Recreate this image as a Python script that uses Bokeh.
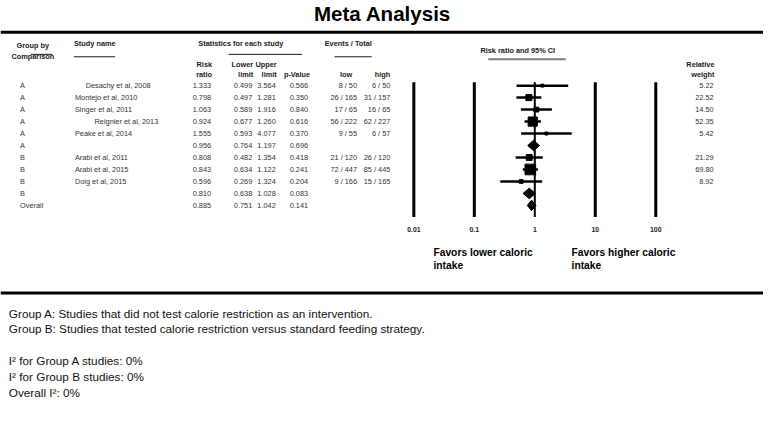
from bokeh.plotting import figure
from bokeh.models import Range1d, LogScale, ColumnDataSource
from bokeh.core.properties import value
from bokeh.embed import file_html
from bokeh.resources import INLINE
import math

# ---------------- data ----------------
groups = ["A", "A", "A", "A", "A", "A", "B", "B", "B", "B", "Overall"]
studies = ["Desachy et al, 2008", "Montejo et al, 2010", "Singer et al, 2011",
           "Reignier et al, 2013", "Peake et al, 2014", "",
           "Arabi et al, 2011", "Arabi et al, 2015", "Doig et al, 2015", "", ""]
risk_ratio = [1.333, 0.798, 1.063, 0.924, 1.555, 0.956, 0.808, 0.843, 0.596, 0.810, 0.885]
lower_limit = [0.499, 0.497, 0.589, 0.677, 0.593, 0.764, 0.482, 0.634, 0.269, 0.638, 0.751]
upper_limit = [3.564, 1.281, 1.916, 1.260, 4.077, 1.197, 1.354, 1.122, 1.324, 1.028, 1.042]
p_value = [0.566, 0.350, 0.840, 0.616, 0.370, 0.696, 0.418, 0.241, 0.204, 0.083, 0.141]
events_low = ["8 / 50", "26 / 165", "17 / 65", "56 / 222", "9 / 55", "",
              "21 / 120", "72 / 447", "9 / 166", "", ""]
events_high = ["6 / 50", "31 / 157", "16 / 65", "62 / 227", "6 / 57", "",
               "26 / 120", "85 / 445", "15 / 165", "", ""]
rel_weight = [5.22, 22.52, 14.50, 52.35, 5.42, None, 21.29, 69.80, 8.92, None, None]
is_summary = [False, False, False, False, False, True, False, False, False, True, True]
axis_ticks = [0.01, 0.1, 1, 10, 100]
axis_tick_labels = ["0.01", "0.1", "1", "10", "100"]
notes = ["Group A: Studies that did not test calorie restriction as an intervention.",
         "Group B: Studies that tested calorie restriction versus standard feeding strategy.",
         "",
         "I\u00b2 for Group A studies: 0%",
         "I\u00b2 for Group B studies: 0%",
         "Overall I\u00b2: 0%"]

# ---------------- layout ----------------
W, H = 763, 405          # figure size in screen pixels
RW, RH = 779, 421        # layout units (reference canvas)
S = W / RW               # font / marker scale
FONT = value("Liberation Sans")
INK = "#1a1a1a"

def fs(px):
    return f"{px * S:.2f}px"

p = figure(width=W, height=H, x_range=Range1d(0, RW), y_range=Range1d(RH, 0),
           output_backend="svg", toolbar_location=None, x_axis_type=None, y_axis_type=None,
           min_border=0, outline_line_color=None)
p.grid.visible = False

# log range for the forest plot: 0.01 at unit 422, 100 at unit 669
dec = (669 - 422) / 4.0
p.extra_x_ranges = {"rr": Range1d(start=10 ** (-2 - 422 / dec),
                                  end=10 ** (2 + (RW - 669) / dec))}
p.extra_x_scales = {"rr": LogScale()}

def txt(x, y, t, size=7.5, align="left", bold=False, color=INK):
    p.text(x=[x], y=[y], text=[t], text_font=FONT, text_font_size=fs(size),
           text_align=align, text_baseline="middle", text_color=color,
           text_font_style="bold" if bold else "normal")

# title and rules
txt(390, 13, "Meta Analysis", size=21, align="center", bold=True, color="black")
p.segment(x0=[0, 0], x1=[RW, RW], y0=[33, 304], y1=[33, 304], line_width=3, line_color="black")

# headers
hb = dict(bold=True, size=7.5)
txt(33, 47, "Group by", align="center", **hb)
txt(33, 58, "Comparison", align="center", **hb)
p.segment(x0=[31], x1=[53], y0=[56], y1=[56], line_color=INK, line_width=1)
txt(75, 45, "Study name", **hb)
p.segment(x0=[75], x1=[117], y0=[58.5], y1=[58.5], line_color=INK, line_width=1)
txt(202, 45, "Statistics for each study", **hb)
p.segment(x0=[233], x1=[308], y0=[56], y1=[56], line_color=INK, line_width=1)
txt(331, 45, "Events / Total", **hb)
p.segment(x0=[341], x1=[379], y0=[58.5], y1=[58.5], line_color=INK, line_width=1)
txt(216, 67, "Risk", align="right", **hb)
txt(216, 77, "ratio", align="right", **hb)
txt(258, 67, "Lower", align="right", **hb)
txt(258, 77, "limit", align="right", **hb)
txt(282, 67, "Upper", align="right", **hb)
txt(282, 77, "limit", align="right", **hb)
txt(316, 77, "p-Value", align="right", **hb)
txt(359, 77, "low", align="right", **hb)
txt(398, 77, "high", align="right", **hb)
txt(490, 52, "Risk ratio and 95% CI", **hb)
p.segment(x0=[498], x1=[577], y0=[61], y1=[61], line_color="#7f7f7f", line_width=2)
txt(729, 67, "Relative", align="right", **hb)
txt(729, 77, "weight", align="right", **hb)

# rows
n = len(groups)
ys = [88.5 + 12.45 * i for i in range(n)]
name_x = [87, 76, 76, 96, 76, 76, 76, 76, 76, 76, 76]
src = ColumnDataSource(dict(
    y=ys, grp=groups, name=studies, name_x=name_x,
    rr=[f"{v:.3f}" for v in risk_ratio],
    lo=[f"{v:.3f}" for v in lower_limit],
    up=[f"{v:.3f}" for v in upper_limit],
    pv=[f"{v:.3f}" for v in p_value],
    el=events_low, eh=events_high,
    w=[f"{v:.2f}" if v is not None else "" for v in rel_weight],
))
cols = [(20, "grp", "left"), (None, "name", "left"), (215, "rr", "right"),
        (257, "lo", "right"), (281, "up", "right"), (314, "pv", "right"),
        (364, "el", "right"), (398, "eh", "right"), (728, "w", "right")]
for x, field, align in cols:
    p.text(x="name_x" if x is None else value(x), y="y", text=field, source=src,
           text_font=FONT, text_font_size=fs(7.5), text_align=align,
           text_baseline="middle", text_color="#333333")

# forest plot axis lines
p.segment(x0=axis_ticks, x1=axis_ticks, y0=85, y1=225, x_range_name="rr",
          line_width=[3, 3, 2, 3, 3], line_color="black")
p.text(x=axis_ticks, y=[238] * 5, text=axis_tick_labels, x_range_name="rr",
       text_font=FONT, text_font_size=fs(7), text_font_style="bold",
       text_align="center", text_baseline="middle", text_color=INK)

# studies: CI lines and weighted squares
st = [i for i in range(n) if not is_summary[i]]
p.segment(x0=[lower_limit[i] for i in st], x1=[upper_limit[i] for i in st],
          y0=[ys[i] for i in st], y1=[ys[i] for i in st],
          x_range_name="rr", line_width=2.5, line_color="black")
p.scatter(x=[risk_ratio[i] for i in st], y=[ys[i] for i in st],
          size=[1.3 * S * math.sqrt(rel_weight[i]) for i in st], marker="square",
          x_range_name="rr", color="black")

# summary diamonds
sm = [i for i in range(n) if is_summary[i]]
p.patches(xs=[[lower_limit[i], risk_ratio[i], upper_limit[i], risk_ratio[i]] for i in sm],
          ys=[[ys[i], ys[i] - 5.5, ys[i], ys[i] + 5.5] for i in sm],
          x_range_name="rr", color="black")

# favors labels
txt(442, 262, "Favors lower caloric", size=10.5, bold=True, color="black")
txt(442, 275, "intake", size=10.5, bold=True, color="black")
txt(583, 262, "Favors higher caloric", size=10.5, bold=True, color="black")
txt(583, 275, "intake", size=10.5, bold=True, color="black")

# notes
for k, line in enumerate(notes):
    if line:
        txt(8.5, 325 + 16.4 * k, line, size=12, color="#111111")

open("out.html", "w").write(file_html(p, INLINE))
